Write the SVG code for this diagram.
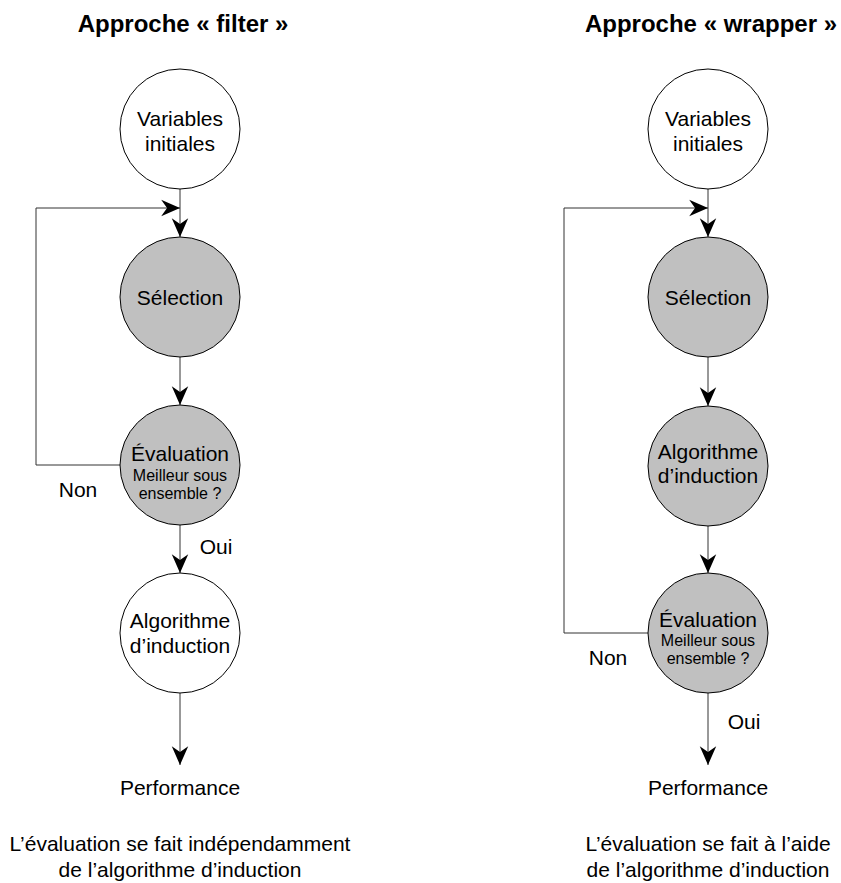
<svg xmlns="http://www.w3.org/2000/svg" width="841" height="883" viewBox="0 0 841 883">
<style>
text{font-family:"Liberation Sans",Arial,sans-serif;fill:#000;text-anchor:middle}
.t{font-size:24px;font-weight:bold}
.n{font-size:21px}
.s{font-size:16px}
.w{fill:#fff;stroke:#000;stroke-width:1}
.g{fill:#c0c0c0;stroke:#000;stroke-width:1}
.c{fill:none;stroke:#333;stroke-width:1}
</style>
<defs>
<marker id="ah" markerUnits="userSpaceOnUse" markerWidth="20" markerHeight="20" viewBox="-16 -8 17 16" refX="0" refY="0" orient="auto">
<path d="M0,0 L-16,-7 L-11,0 L-16,7 Z" fill="#000"/>
</marker>
</defs>
<rect width="841" height="883" fill="#fff"/>
<text class="t" x="183" y="32">Approche « filter »</text>
<text class="t" x="711" y="32">Approche « wrapper »</text>
<g id="connectors">
<path class="c" d="M180,189 V237" marker-end="url(#ah)"/>
<path class="c" d="M120,465 H36 V208 H180" marker-end="url(#ah)"/>
<path class="c" d="M180,357 V405" marker-end="url(#ah)"/>
<path class="c" d="M180,525 V573" marker-end="url(#ah)"/>
<path class="c" d="M180,693 V765" marker-end="url(#ah)"/>
<path class="c" d="M708,189 V237" marker-end="url(#ah)"/>
<path class="c" d="M648,633 H564 V208 H708" marker-end="url(#ah)"/>
<path class="c" d="M708,357 V406" marker-end="url(#ah)"/>
<path class="c" d="M708,526 V573" marker-end="url(#ah)"/>
<path class="c" d="M708,693 V765" marker-end="url(#ah)"/>
</g>
<g id="f-variables"><circle class="w" cx="180" cy="129" r="60"/><text class="n" x="180" y="126">Variables</text><text class="n" x="180" y="151">initiales</text></g>
<g id="f-selection"><circle class="g" cx="180" cy="297" r="60"/><text class="n" x="180" y="305">Sélection</text></g>
<g id="f-evaluation"><circle class="g" cx="180" cy="465" r="60"/><text class="n" x="180" y="461">Évaluation</text><text class="s" x="180" y="481">Meilleur sous</text><text class="s" x="180" y="499">ensemble ?</text></g>
<g id="f-algorithme"><circle class="w" cx="180" cy="633" r="60"/><text class="n" x="180" y="628">Algorithme</text><text class="n" x="180" y="653">d’induction</text></g>
<g id="f-performance"><text class="n" x="180" y="795">Performance</text></g>
<text class="n" x="78" y="497">Non</text>
<text class="n" x="216" y="554">Oui</text>
<text class="n" x="180" y="851">L’évaluation se fait indépendamment</text>
<text class="n" x="180" y="877">de l’algorithme d’induction</text>
<g id="w-variables"><circle class="w" cx="708" cy="129" r="60"/><text class="n" x="708" y="126">Variables</text><text class="n" x="708" y="151">initiales</text></g>
<g id="w-selection"><circle class="g" cx="708" cy="297" r="60"/><text class="n" x="708" y="305">Sélection</text></g>
<g id="w-algorithme"><circle class="g" cx="708" cy="466" r="60"/><text class="n" x="708" y="459">Algorithme</text><text class="n" x="708" y="483">d’induction</text></g>
<g id="w-evaluation"><circle class="g" cx="708" cy="633" r="60"/><text class="n" x="708" y="627">Évaluation</text><text class="s" x="708" y="646">Meilleur sous</text><text class="s" x="708" y="664">ensemble ?</text></g>
<g id="w-performance"><text class="n" x="708" y="795">Performance</text></g>
<text class="n" x="608" y="665">Non</text>
<text class="n" x="744" y="729">Oui</text>
<text class="n" x="708" y="851">L’évaluation se fait à l’aide</text>
<text class="n" x="708" y="877">de l’algorithme d’induction</text>
</svg>
